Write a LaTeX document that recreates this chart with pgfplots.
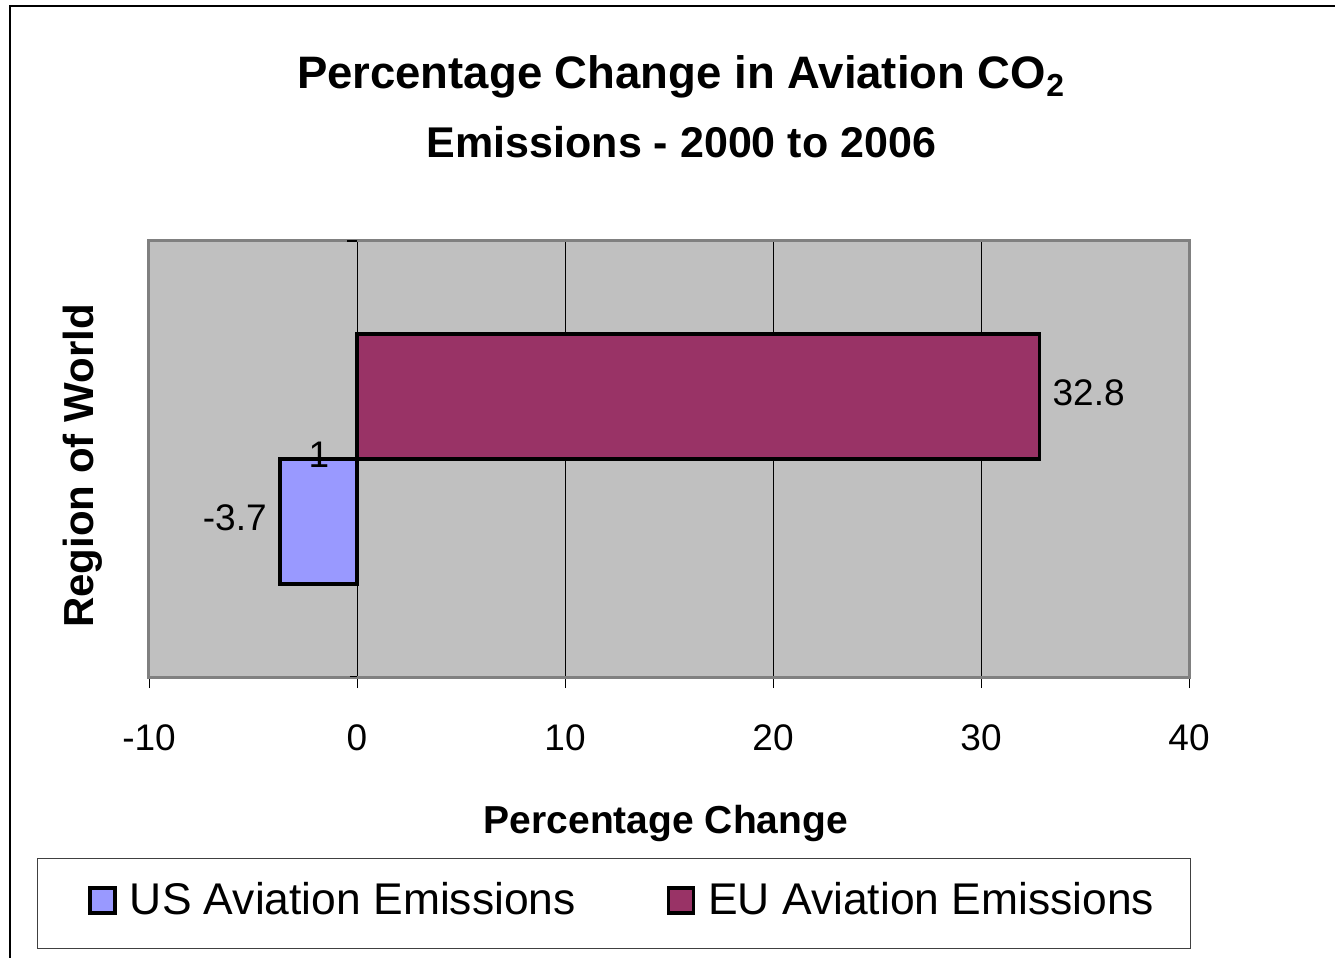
\documentclass[border=0pt]{standalone}
\usepackage{pgfplots}
\pgfplotsset{compat=1.18}
\usepackage{fontspec}
\setmainfont{Liberation Sans}
\definecolor{usblue}{HTML}{9999FF}
\definecolor{eumaroon}{HTML}{993366}
\definecolor{plotgray}{HTML}{C0C0C0}
\definecolor{bordergray}{HTML}{808080}
\begin{document}
\begin{tikzpicture}
\useasboundingbox (0,0) rectangle (667.5bp,479bp);
\draw[line width=1bp] (5bp,-5bp) -- (5bp,476bp) -- (672bp,476bp);
\node[font=\bfseries\fontsize{22.75bp}{24bp}\selectfont, anchor=base] at (340.5bp,434.5bp) {Percentage Change in Aviation CO\textsubscript{2}};
\node[font=\bfseries\fontsize{21.5bp}{24bp}\selectfont, anchor=base] at (340.75bp,400bp) {Emissions - 2000 to 2006};
\begin{axis}[
  at={(74.5bp,140.5bp)}, anchor=south west,
  scale only axis, width=520bp, height=218bp,
  xbar=0pt, bar width=62.5bp,
  xmin=-10, xmax=40, ymin=-1, ymax=1,
  xtick={-10,0,10,20,30,40}, ytick=\empty,
  xtick pos=bottom,
  xmajorgrids, major grid style={black, line width=0.5bp},
  axis background/.style={fill=plotgray},
  axis line style={bordergray, line width=1.5bp},
  xtick align=outside, major tick length=5.5bp,
  tick style={black, line width=0.5bp},
  /pgf/number format/assume math mode=true,
  ticklabel style={font=\fontsize{18.5bp}{20bp}\selectfont},
  xticklabel style={anchor=base, yshift=-31bp},
  xlabel={Percentage Change}, ylabel={Region of World},
  xlabel style={font=\bfseries\fontsize{19.5bp}{22bp}\selectfont, at={(axis description cs:0.497,-0.3578)}, anchor=base},
  ylabel style={font=\bfseries\fontsize{21bp}{22bp}\selectfont, at={(axis description cs:-0.053,0.484)}, anchor=base},
  legend columns=2,
  legend style={at={(axis description cs:-0.1077,-0.4151)}, anchor=north west,
    draw=black!75, line width=0.5bp, inner xsep=18bp, inner ysep=11.75bp,
    font=\fontsize{22.2bp}{24bp}\selectfont, nodes={inner sep=0pt, text depth=5.25bp},
    /tikz/every even column/.append style={column sep=38bp},
    /tikz/every odd column/.append style={column sep=6.5bp}},
  legend image code/.code={\path (0bp,0bp); \draw[#1, line width=1.75bp] (7.5bp,-4.75bp) rectangle (20bp,7.75bp);},
  nodes near coords, point meta=x,
  nodes near coords style={font=\fontsize{18.5bp}{20bp}\selectfont, black},
]
\addplot[fill=usblue, draw=black, line width=1.75bp,
  every node near coord/.append style={anchor=east, xshift=-2.5bp, yshift=2bp}] coordinates {(-3.7,0)};
\addplot[fill=eumaroon, draw=black, line width=1.75bp,
  every node near coord/.append style={anchor=west, xshift=2.5bp, yshift=2bp}] coordinates {(32.8,0)};
\legend{US Aviation Emissions, EU Aviation Emissions}
\draw[black, line width=1bp] (axis cs:-0.48,1) -- (axis cs:0,1);
\draw[black, line width=1bp] (axis cs:-0.34,-1) -- (axis cs:0,-1);
\node[font=\fontsize{18.5bp}{20bp}\selectfont] at (axis cs:-1.83,0.02) {1};
\end{axis}
\end{tikzpicture}
\end{document}
